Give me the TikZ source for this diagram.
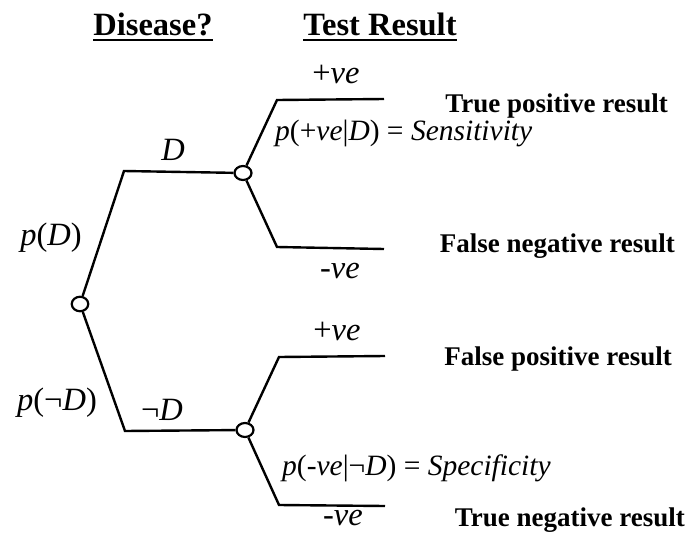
\documentclass[tikz,border=0pt]{standalone}
\usepackage{fontspec}
\setmainfont{Liberation Serif}
\usetikzlibrary{shapes.geometric}
\begin{document}
\begin{tikzpicture}[x=1pt,y=-1pt,
  branch/.style={line width=2.4pt, line join=miter},
  chance/.style={ellipse, draw, line width=2.2pt, fill=white, minimum width=17pt, minimum height=14pt, inner sep=0pt},
  head/.style={font=\fontsize{32.5}{38}\selectfont\bfseries, inner sep=0pt, anchor=base},
  outcome/.style={font=\fontsize{27}{31}\selectfont\bfseries, inner sep=0pt, anchor=base east},
  lbl/.style={font=\fontsize{32.5}{37}\selectfont, inner sep=0pt, anchor=base},
  eqn/.style={font=\fontsize{29.5}{34}\selectfont, inner sep=0pt, anchor=base west},
  rule/.style={line width=2pt}]
\useasboundingbox (0,0) rectangle (689,533);

% column headings
\node[head] (hdis) at (153,35) {Disease?};
\node[head] (htest) at (380,35) {Test Result};
\draw[rule] ([yshift=-4.5pt]hdis.base west) -- ([yshift=-4.5pt]hdis.base east);
\draw[rule] ([yshift=-4.5pt]htest.base west) -- ([yshift=-4.5pt]htest.base east);

% chance nodes
\node[chance, minimum width=16.5pt, minimum height=14.5pt] (root) at (80,304) {};
\node[chance] (dpos) at (243,173) {};
\node[chance] (dneg) at (245,430) {};

% corners and line ends
\coordinate (c1) at (124,171);
\coordinate (c2) at (125,431);
\coordinate (c3) at (277,100);
\coordinate (e3) at (384,99);
\coordinate (c4) at (277,247);
\coordinate (e4) at (384,249);
\coordinate (c5) at (279,357);
\coordinate (e5) at (385,356);
\coordinate (c6) at (279,505);
\coordinate (e6) at (385,506);

% branches
\draw[branch] (root) -- (c1) -- (dpos);
\draw[branch] (root) -- (c2) -- (dneg);
\draw[branch] (dpos) -- (c3) -- (e3);
\draw[branch] (dpos) -- (c4) -- (e4);
\draw[branch] (dneg) -- (c5) -- (e5);
\draw[branch] (dneg) -- (c6) -- (e6);

% branch labels
\node[lbl] (lD) at (173,160) {\textit{D}};
\node[lbl] (lpD) at (51,245) {\textit{p}(\textit{D})};
\node[lbl] (lpnD) at (57,410) {\textit{p}(¬\textit{D})};
\node[lbl] (lnD) at (162,420) {¬\textit{D}};
\node[lbl] (lpos1) at (336,83) {+\textit{ve}};
\node[lbl] (lneg1) at (340,278) {\textit{-ve}};
\node[lbl] (lpos2) at (337,340) {+\textit{ve}};
\node[lbl] (lneg2) at (343,525) {\textit{-ve}};
\node[eqn] (sens) at (275,140) {\textit{p}(+\textit{ve}|\textit{D}) = \textit{Sensitivity}};
\node[eqn] (spec) at (282,475) {\textit{p}(\textit{-ve}|¬\textit{D}) = \textit{Specificity}};

% outcomes
\node[outcome] (tp) at (668,112) {True positive result};
\node[outcome] (fn) at (675,252) {False negative result};
\node[outcome] (fp) at (672,365) {False positive result};
\node[outcome] (tn) at (685,526) {True negative result};
\end{tikzpicture}
\end{document}
